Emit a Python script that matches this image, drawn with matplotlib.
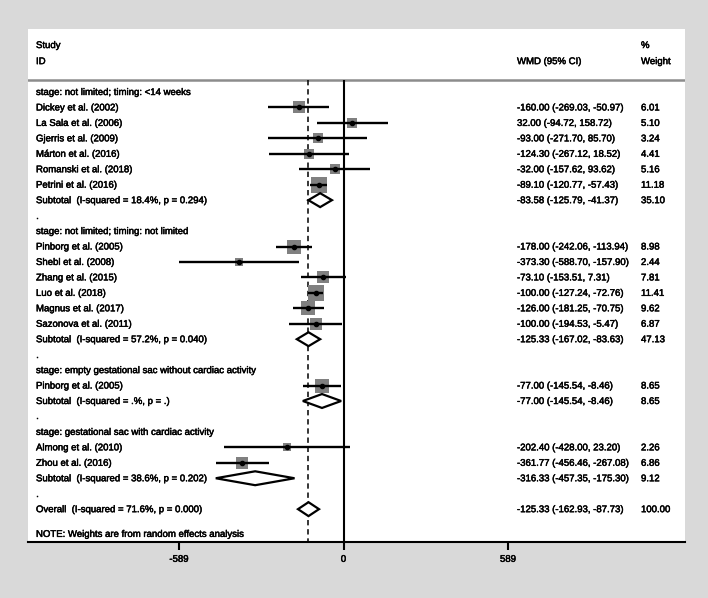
import numpy as np
import matplotlib.pyplot as plt
import matplotlib.patheffects as pe
from matplotlib.patches import Polygon

plt.rcParams['font.family'] = ['Liberation Sans', 'DejaVu Sans']

# groups (stage / timing)
group_titles = [
    "stage: not limited; timing: <14 weeks",
    "stage: not limited; timing: not limited",
    "stage: empty gestational sac without cardiac activity",
    "stage: gestational sac with cardiac activity",
]

# studies
studies = [
    "Dickey et al. (2002)", "La Sala et al. (2006)", "Gjerris et al. (2009)",
    "Márton et al. (2016)", "Romanski et al. (2018)", "Petrini et al. (2016)",
    "Pinborg et al. (2005)", "Shebl et al. (2008)", "Zhang et al. (2015)",
    "Luo et al. (2018)", "Magnus et al. (2017)", "Sazonova et al. (2011)",
    "Pinborg et al. (2005)",
    "Almong et al. (2010)", "Zhou et al. (2016)",
]
study_group = [0, 0, 0, 0, 0, 0, 1, 1, 1, 1, 1, 1, 2, 3, 3]
wmd = [-160.00, 32.00, -93.00, -124.30, -32.00, -89.10,
       -178.00, -373.30, -73.10, -100.00, -126.00, -100.00,
       -77.00,
       -202.40, -361.77]
ci_low = [-269.03, -94.72, -271.70, -267.12, -157.62, -120.77,
          -242.06, -588.70, -153.51, -127.24, -181.25, -194.53,
          -145.54,
          -428.00, -456.46]
ci_high = [-50.97, 158.72, 85.70, 18.52, 93.62, -57.43,
           -113.94, -157.90, 7.31, -72.76, -70.75, -5.47,
           -8.46,
           23.20, -267.08]
weights = [6.01, 5.10, 3.24, 4.41, 5.16, 11.18,
           8.98, 2.44, 7.81, 11.41, 9.62, 6.87,
           8.65,
           2.26, 6.86]

# subtotals
sub_i2 = ["18.4%", "57.2%", ".%", "38.6%"]
sub_p = ["0.294", "0.040", ".", "0.202"]
sub_wmd = [-83.58, -125.33, -77.00, -316.33]
sub_low = [-125.79, -167.02, -145.54, -457.35]
sub_high = [-41.37, -83.63, -8.46, -175.30]
sub_w = [35.10, 47.13, 8.65, 9.12]

# overall
overall_i2 = "71.6%"
overall_p = "0.000"
overall_wmd = -125.33
overall_low = -162.93
overall_high = -87.73
overall_w = 100.00

tick_values = [-589, 0, 589]

FS = 6.9
thick = [pe.withStroke(linewidth=0.35, foreground='black')]
fig = plt.figure(figsize=(7.08, 5.98), dpi=100, facecolor='#d9d9d9')
ax = fig.add_axes([28 / 708, 1 - 542 / 598, 657 / 708, (542 - 29) / 598])
ax.set_facecolor('white')

# pixel based scale: 0 at x=343.5, 589 -> 508 px
px_per_unit = 164.5 / 589
ax.set_xlim((28 - 343.5) / px_per_unit, (685 - 343.5) / px_per_unit)
row_h = 15.45
y_bottom = (542 - 92) / row_h
y_top = (29 - 92) / row_h
ax.set_ylim(y_bottom, y_top)

tr = ax.get_yaxis_transform()
x_lab = 8 / 657
x_wmd = (517 - 28) / 657
x_wt = (641 - 28) / 657

def txt(x, y, s):
    ax.text(x, y, s, transform=tr, fontsize=FS, va='center', path_effects=thick)

def ci_text(e, lo, hi):
    return f"{e:.2f} ({lo:.2f}, {hi:.2f})"

def diamond(e, lo, hi, y):
    h = 0.45
    poly = Polygon([(lo, y), (e, y - h), (hi, y), (e, y + h)], closed=True,
                   facecolor='white', edgecolor='black', lw=1.6, zorder=4)
    ax.add_patch(poly)

# header
txt(x_lab, -3.04, "Study")
txt(x_lab, -2.0, "ID")
txt(x_wmd, -2.0, "WMD (95% CI)")
txt(x_wt, -3.04, "%")
txt(x_wt, -2.0, "Weight")
sep_y = -0.78
ax.axhline(sep_y, color='#8c8c8c', lw=1.8, zorder=1)

row = 0
for g, title in enumerate(group_titles):
    txt(x_lab, row, title)
    row += 1
    for i in range(len(studies)):
        if study_group[i] != g:
            continue
        side = (2 + 3.9 * np.sqrt(weights[i])) * 0.72
        ax.scatter(wmd[i], row, s=side ** 2, marker='s',
                   color='#808080', zorder=2, linewidths=0)
        ax.plot([ci_low[i], ci_high[i]], [row, row], color='black',
                lw=1.7, zorder=3, solid_capstyle='butt')
        ax.plot(wmd[i], row, 'o', color='black', ms=3, zorder=5)
        txt(x_lab, row, studies[i])
        txt(x_wmd, row, ci_text(wmd[i], ci_low[i], ci_high[i]))
        txt(x_wt, row, f"{weights[i]:.2f}")
        row += 1
    diamond(sub_wmd[g], sub_low[g], sub_high[g], row)
    txt(x_lab, row, f"Subtotal  (I-squared = {sub_i2[g]}, p = {sub_p[g]})")
    txt(x_wmd, row, ci_text(sub_wmd[g], sub_low[g], sub_high[g]))
    txt(x_wt, row, f"{sub_w[g]:.2f}")
    row += 1
    txt(x_lab, row, ".")
    row += 1

diamond(overall_wmd, overall_low, overall_high, row)
txt(x_lab, row, f"Overall  (I-squared = {overall_i2}, p = {overall_p})")
txt(x_wmd, row, ci_text(overall_wmd, overall_low, overall_high))
txt(x_wt, row, f"{overall_w:.2f}")
txt(x_lab, row + 1.6, "NOTE: Weights are from random effects analysis")

# null line and overall line
ax.vlines(0, sep_y, y_bottom, color='black', lw=1.5, zorder=1)
ax.vlines(overall_wmd, sep_y, y_bottom, color='black', lw=1.1,
          linestyles=(0, (3.5, 2.5)), zorder=1)

for side_name in ['top', 'left', 'right']:
    ax.spines[side_name].set_visible(False)
ax.spines['bottom'].set_linewidth(1.5)
ax.set_yticks([])
ax.set_xticks(tick_values)
ax.set_xticklabels([str(t) for t in tick_values])
ax.tick_params(axis='x', direction='out', length=5.5, width=1.5, labelsize=FS, pad=3)
for lab in ax.get_xticklabels():
    lab.set_path_effects(thick)

fig.savefig('out.png', dpi=100, facecolor=fig.get_facecolor())
